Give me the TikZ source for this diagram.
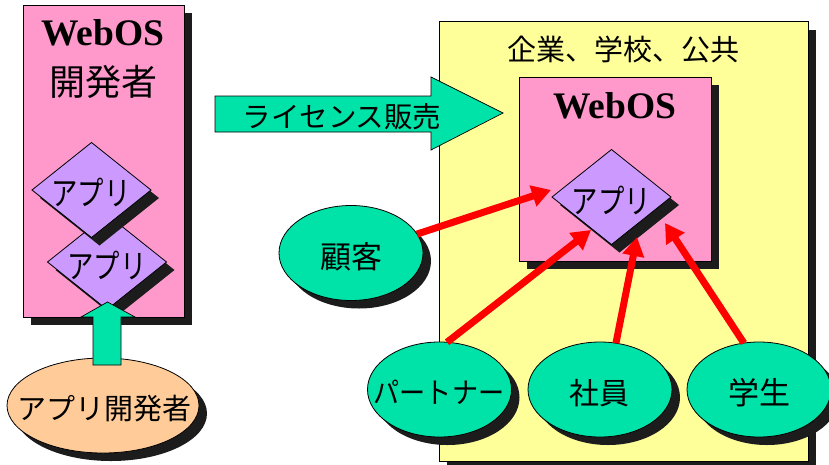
\documentclass[tikz,border=0pt]{standalone}
\usepackage{fontspec}
\setmainfont{Liberation Serif}
\newfontfamily\jp{Noto Sans CJK JP}
\usetikzlibrary{shapes.geometric,shadows,arrows.meta}
\definecolor{pinkc}{HTML}{FF99CC}
\definecolor{purplec}{HTML}{CC99FF}
\definecolor{greenc}{HTML}{00E3A8}
\definecolor{yellowc}{HTML}{FFFF99}
\definecolor{orangec}{HTML}{FFCC99}
\definecolor{shadowc}{HTML}{1C1C1C}
\newcommand{\appword}{\scalebox{0.8}[1]{アプリ}}
\tikzset{
  shadowed/.style={general shadow={fill=shadowc,draw=none,shadow xshift=8pt,shadow yshift=-8pt}},
  box/.style={draw=black,line width=0.8pt,inner sep=0pt,outer sep=0pt,shadowed},
  appd/.style={box,diamond,fill=purplec,shape aspect=1.25,minimum width=119pt,minimum height=95pt},
  person/.style={box,ellipse,fill=greenc,minimum width=144pt,minimum height=95pt},
  jplabel/.style={inner sep=0pt,font=\jp\fontsize{#1}{#1}\selectfont},
  oslabel/.style={inner sep=0pt,font=\bfseries\fontsize{37.5}{37.5}\selectfont},
  block/.style={draw=black,line width=0.7pt,fill=greenc},
  redarrow/.style={draw=red,line width=7pt,-{Triangle[length=19pt,width=21pt]}},
}
\begin{document}
\begin{tikzpicture}[x=1pt,y=-1pt]
\useasboundingbox (0,0) rectangle (829,464);
% left panel
\node[box,fill=pinkc,minimum width=161pt,minimum height=312pt] (dev) at (103.5,161) {};
\node[oslabel] (devos) at (103,33) {WebOS};
\node[jplabel=36] (devname) at (103,82) {開発者};
\node[appd] (app2) at (107,262) {};
\node[jplabel=33] (app2t) at (107,265) {\appword};
\node[appd] (app1) at (91.5,190) {};
\node[jplabel=33] (app1t) at (91,192) {\appword};
\node[box,ellipse,fill=orangec,minimum width=192pt,minimum height=95pt] (appdev) at (103,405.5) {};
\node[jplabel=29] (appdevt) at (104,408.5) {アプリ開発者};
\draw[block] (93,365) -- (93,317) -- (81,317) -- (107.5,302) -- (135,317) -- (121,317) -- (121,365) -- cycle;
% right panel
\node[box,fill=yellowc,minimum width=369pt,minimum height=440pt] (org) at (623.5,241.5) {};
\node[jplabel=29] (orgname) at (623,49) {企業、学校、公共};
\node[box,fill=pinkc,minimum width=192pt,minimum height=184pt] (os) at (615,169) {};
\node[oslabel] (osname) at (615,106) {WebOS};
\node[appd] (app3) at (611.5,197) {};
\node[jplabel=33] (app3t) at (611.5,200) {\appword};
% licence arrow
\draw[block] (215,96) -- (431,96) -- (431,77) -- (503,113) -- (431,150) -- (431,132) -- (215,132) -- cycle;
\node[jplabel=28.5] (lic) at (342,116.5) {ライセンス販売};
% people
\node[person] (cust) at (351,253) {};
\node[jplabel=31] (custt) at (351,257) {顧客};
\node[person] (partner) at (439.5,389.5) {};
\node[jplabel=29] (partnert) at (439,392.5) {\scalebox{0.9}[1]{パートナー}};
\node[person] (staff) at (600,389.5) {};
\node[jplabel=30] (stafft) at (599,393) {社員};
\node[person] (student) at (759,389.5) {};
\node[jplabel=31] (studentt) at (759,393) {学生};
% red connectors
\coordinate (t1) at (551,190);
\coordinate (t2) at (591,230);
\coordinate (t3) at (637,237);
\coordinate (t4) at (665,223);
\draw[redarrow] (cust.16) -- (t1);
\draw[redarrow] (partner.81) -- (t2);
\draw[redarrow] (staff.71.5) -- (t3);
\draw[redarrow] (student.108.5) -- (t4);
\end{tikzpicture}
\end{document}
